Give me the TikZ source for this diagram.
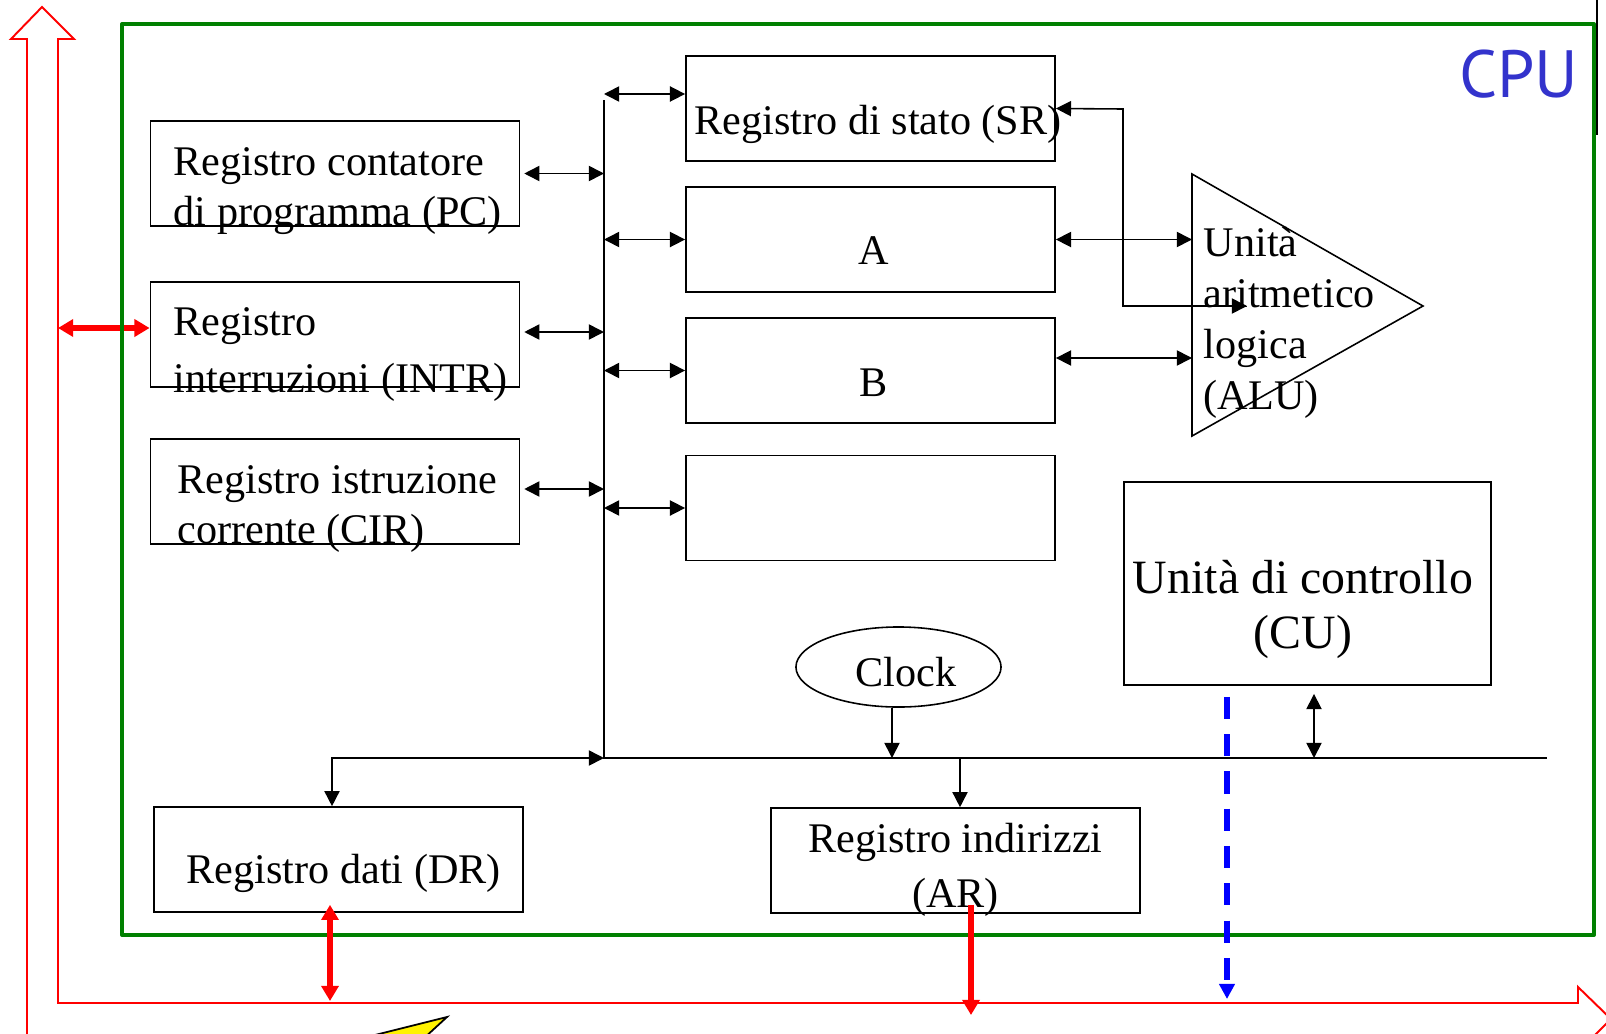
\documentclass[tikz,border=0pt]{standalone}
\usepackage{fontspec}
\setmainfont{Liberation Serif}
\newfontfamily\cpufont{PT Sans}
\usetikzlibrary{arrows.meta}
\usetikzlibrary{shapes.geometric}

\definecolor{cpublue}{RGB}{51,51,204}
\definecolor{framegreen}{RGB}{0,128,0}

\tikzset{
  reg/.style={draw, line width=0.45pt, minimum width=3.69cm,
    minimum height=1.05cm, inner sep=0pt},
  txt/.style={font=\fontsize{12}{14.2}\selectfont, inner sep=0pt},
  dbl/.style={line width=0.45pt,
    {Triangle[length=4.3pt,width=4.3pt]}-{Triangle[length=4.3pt,width=4.3pt]}},
  sgl/.style={line width=0.45pt, -{Triangle[length=4.3pt,width=4.3pt]}},
  redarrow/.style={red, line width=1.6pt,
    {Triangle[length=4.3pt,width=4.8pt]}-{Triangle[length=4.3pt,width=4.8pt]}},
  redone/.style={red, line width=1.6pt, -{Triangle[length=4.3pt,width=4.8pt]}},
  bluedash/.style={blue, line width=1.6pt, dash pattern=on 6.3pt off 4.3pt,
    -{Triangle[length=4.3pt,width=4.3pt]}}
}

\begin{document}
\begin{tikzpicture}[x=0.01cm, y=-0.01cm]
  \useasboundingbox (0,0) rectangle (1606,1033);
  \clip (0,0) rectangle (1606,1033);

  %% System bus: the hollow red arrow, and the stray shapes.
  \draw[red, line width=0.55pt]
  (42,7) -- (74,39) -- (58,39) -- (58,1003) -- (1578,1003) -- (1578,987)
  -- (1611,1019) -- (1578,1052) -- (1578,1036) -- (27,1036) -- (27,39)
  -- (11,39) -- cycle;
  \draw[fill=yellow, line width=0.5pt] (355,1040) -- (447,1017) -- (422,1040);
  \draw[line width=0.5pt] (1597,-5) -- (1597,135);

  %% Bus coordinates.
  \coordinate (sysin) at (58,328);
  \coordinate (bustop) at (604,100);
  \coordinate (buscorner) at (604,758);
  \coordinate (busend) at (1547,758);

  %% Left registers (multi-line texts sit on their last baseline).
  \node[reg] (pc) at (335,173.5) {};
  \node[reg] (intr) at (335,334.5) {};
  \node[reg] (cir) at (335,491.5) {};
  \node[txt, align=left, anchor=base west] (pc-t) at (173,225)
  {Registro contatore\\di programma (PC)};
  \node[txt, align=left, anchor=base west] (intr-t) at (173,392)
  {Registro\\[2pt]interruzioni (INTR)};
  \node[txt, align=left, anchor=base west] (cir-t) at (177,543)
  {Registro istruzione\\corrente (CIR)};

  %% Interrupt line from the system bus.
  \draw[redarrow] (sysin) -- (sysin -| intr.west);

  %% CPU border and label.
  \draw[framegreen, line width=1.15pt, line join=round]
  (122,24) rectangle (1594,935);
  \node[font=\cpufont\fontsize{19}{19}\selectfont, text=cpublue,
  inner sep=0pt, anchor=base east] (cpu) at (1579,97) {CPU};

  %% Registers SR, A, B and the spare one.
  \node[reg] (sr) at (870.5,108.5) {};
  \node[reg] (ra) at (870.5,239.5) {};
  \node[reg] (rb) at (870.5,370.5) {};
  \node[reg] (r4) at (870.5,508) {};
  \node[txt, anchor=base west] (sr-t) at (694,134) {Registro di stato (SR)};
  \node[txt, anchor=base] (ra-t) at (874,264) {A};
  \node[txt, anchor=base] (rb-t) at (874,396) {B};

  %% ALU.
  \draw[line width=0.45pt] (1192,174) coordinate (alu-nw)
  -- (1423,306) -- (1192,436) -- cycle;
  \coordinate (alu-in) at (1247,306);
  \coordinate (sr-bend) at (1123,109);
  \node[txt, font=\fontsize{12}{14.5}\selectfont, align=left,
  anchor=base west] (alu) at (1203,409)
  {Unità\\aritmetico\\logica\\(ALU)};

  %% Control unit and clock.
  \node[draw, line width=0.45pt, minimum width=3.67cm, minimum height=2.03cm,
  inner sep=0pt] (cu) at (1307.5,583.5) {};
  \node[txt, font=\fontsize{13.6}{15.4}\selectfont, align=center,
  anchor=base] (cu-t) at (1303,648) {Unità di controllo\\(CU)};
  \node[draw, ellipse, line width=0.45pt, minimum width=2.05cm,
  minimum height=0.8cm, inner sep=0pt] (clock) at (898.5,667) {};
  \node[txt, anchor=base] (clock-t) at (906,686) {Clock};

  %% Data and address registers.
  \node[reg] (dr) at (338.5,859.5) {};
  \node[reg] (ar) at (955.5,860.5) {};
  \node[txt, anchor=base west] (dr-t) at (186,883) {Registro dati (DR)};
  \node[txt, align=center, anchor=base] (ar-t) at (955.5,907)
  {Registro indirizzi\\[1.2pt](AR)};

  %% The internal bus.
  \draw[line width=0.45pt] (bustop) -- (buscorner) -- (busend);

  %% Connections to the internal bus.
  \draw[dbl, shorten <=1.1pt] (pc.east) -- (pc.east -| bustop);
  \draw[dbl, shorten <=1.1pt] ([yshift=0.025cm]intr.east)
  -- ([yshift=0.025cm]intr.east -| bustop);
  \draw[dbl, shorten <=1.1pt] ([yshift=0.025cm]cir.east)
  -- ([yshift=0.025cm]cir.east -| bustop);
  \draw[dbl] ([yshift=0.145cm]sr.west -| bustop) -- ([yshift=0.145cm]sr.west);
  \draw[dbl] (ra.west -| bustop) -- (ra.west);
  \draw[dbl] (rb.west -| bustop) -- (rb.west);
  \draw[dbl] (r4.west -| bustop) -- (r4.west);
  \draw[dbl] (buscorner) -| ([xshift=-0.065cm]dr.north);
  \draw[sgl] ([xshift=-0.065cm]clock.south)
  -- ([xshift=-0.065cm]clock.south |- buscorner);
  \draw[sgl] (ar.north -| 960,0) ++(0,-50) -- (ar.north -| 960,0);
  \draw[dbl, shorten >=2.3pt] (buscorner -| 1314,0) -- (cu.south -| 1314,0);

  %% ALU connections.
  \draw[dbl] (ra.east) -- (ra.east -| alu-nw);
  \draw[dbl] ([yshift=0.125cm]rb.east) -- ([yshift=0.125cm]rb.east -| alu-nw);
  \draw[dbl] (sr.east) -- (sr-bend) |- (alu-in);

  %% Links to the system bus.
  \draw[redarrow] (330,1001) -- ([yshift=0.08cm]dr.south -| 330,0);
  \draw[redone] ([yshift=0.09cm]ar.south -| 971,0) -- (971,1015);
  \draw[bluedash] ([yshift=-0.11cm]cu.south -| 1227,0) -- (1227,999);

\end{tikzpicture}
\end{document}
